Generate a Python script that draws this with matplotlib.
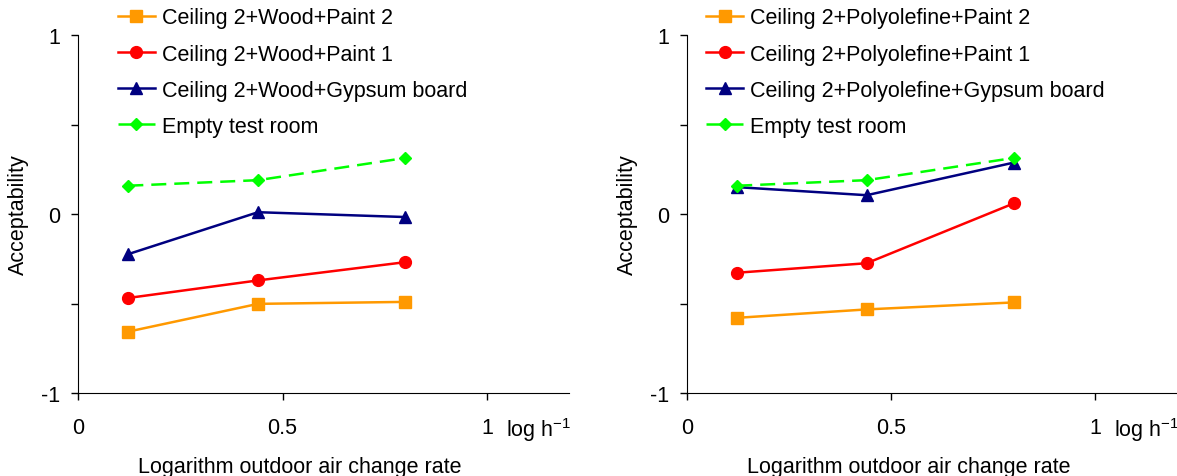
import numpy as np
import matplotlib.pyplot as plt

plt.rcParams['font.family'] = ['Liberation Sans', 'DejaVu Sans']
plt.rcParams['mathtext.fontset'] = 'custom'
plt.rcParams['mathtext.rm'] = 'Liberation Sans'

# log of outdoor air change rate (log h^-1)
log_ach = [0.123, 0.44, 0.80]

# left panel - wood
wood_paint2 = [-0.657, -0.502, -0.491]
wood_paint1 = [-0.469, -0.371, -0.269]
wood_gypsum = [-0.224, 0.010, -0.017]
empty_room = [0.158, 0.189, 0.313]

# right panel - polyolefine
poly_paint2 = [-0.580, -0.533, -0.494]
poly_paint1 = [-0.328, -0.275, 0.059]
poly_gypsum = [0.150, 0.105, 0.287]

left_labels = ['Ceiling 2+Wood+Paint 2', 'Ceiling 2+Wood+Paint 1',
               'Ceiling 2+Wood+Gypsum board', 'Empty test room']
right_labels = ['Ceiling 2+Polyolefine+Paint 2', 'Ceiling 2+Polyolefine+Paint 1',
                'Ceiling 2+Polyolefine+Gypsum board', 'Empty test room']

styles = [
    dict(color='#FF9900', marker='s', markersize=8, linestyle='-'),
    dict(color='#FF0000', marker='o', markersize=8.5, linestyle='-'),
    dict(color='#000080', marker='^', markersize=8.5, linestyle='-'),
    dict(color='#00FF00', marker='D', markersize=6.5, linestyle=(0, (6, 3.2))),
]

FS = 15.5

fig = plt.figure(figsize=(11.77, 4.77), dpi=100)
ax1 = fig.add_axes([78/1177, 83/477, 491/1177, 358/477])
ax2 = fig.add_axes([687/1177, 83/477, 490/1177, 358/477])


def draw_panel(ax, series, labels, leg_x):
    for vals, lab, st in zip(series, labels, styles):
        ax.plot(log_ach, vals, label=lab, linewidth=1.8, clip_on=False, **st)
    ax.set_xlim(0, 1.2)
    ax.set_ylim(-1, 1)
    ax.spines['top'].set_visible(False)
    ax.spines['right'].set_visible(False)
    ax.set_xticks([0, 0.5, 1])
    ax.set_xticklabels(['0', '0.5', '1'])
    ax.set_yticks([-1, -0.5, 0, 0.5, 1])
    ax.set_yticklabels(['-1', '', '0', '', '1'])
    ax.tick_params(axis='both', direction='out', length=5, width=1, labelsize=FS)
    ax.tick_params(axis='x', pad=12)
    ax.tick_params(axis='y', pad=8)
    ax.set_ylabel('Acceptability', fontsize=FS)
    ax.yaxis.set_label_coords(-0.1, 0.5)
    ax.set_xlabel('Logarithm outdoor air change rate', fontsize=FS)
    ax.xaxis.set_label_coords(0.452, -0.177)
    # unit text next to the "1" tick label
    ax.text(1.045, -0.1, r'log h$^{\mathregular{-1}}$', fontsize=FS,
            transform=ax.get_xaxis_transform(), va='center', ha='left')
    ax.legend(loc='upper left', bbox_to_anchor=(leg_x, 1.077), frameon=False,
              fontsize=FS, handlelength=1.72, handletextpad=0.33,
              labelspacing=0.70, borderpad=0, borderaxespad=0)


draw_panel(ax1, [wood_paint2, wood_paint1, wood_gypsum, empty_room], left_labels, 0.081)
draw_panel(ax2, [poly_paint2, poly_paint1, poly_gypsum, empty_room], right_labels, 0.039)

fig.savefig('out.png', dpi=100)
